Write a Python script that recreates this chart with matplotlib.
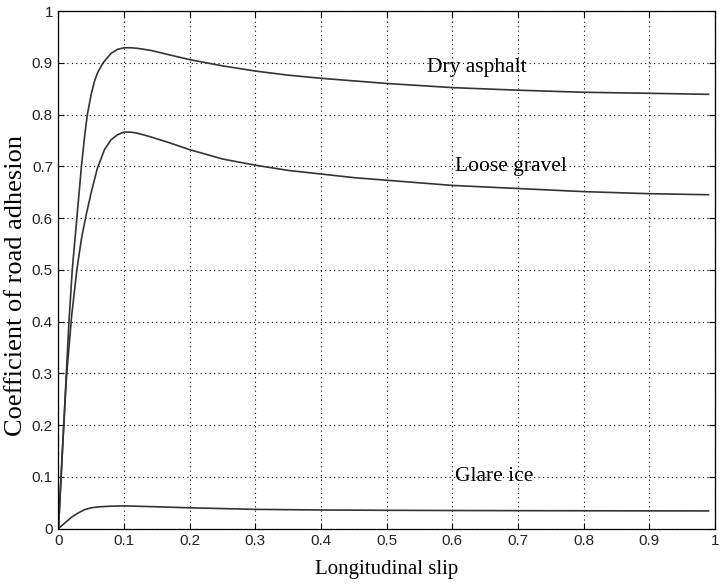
import matplotlib
matplotlib.use("Agg")
import matplotlib.pyplot as plt

# ==========================================
# Data
# ==========================================

dry_slip = [0, 0.006, 0.012, 0.016, 0.021, 0.028, 0.035, 0.04, 0.044, 0.05,
            0.055, 0.06, 0.068, 0.08, 0.09, 0.1, 0.11, 0.12, 0.14, 0.17,
            0.2, 0.25, 0.3, 0.35, 0.4, 0.45, 0.5, 0.6, 0.7, 0.8, 0.9, 0.99]
dry_mu = [0, 0.15, 0.3, 0.4, 0.5, 0.6, 0.7, 0.76, 0.8, 0.84,
          0.865, 0.882, 0.9, 0.918, 0.926, 0.929, 0.929, 0.928, 0.924, 0.915,
          0.906, 0.894, 0.884, 0.876, 0.870, 0.865, 0.860, 0.852, 0.847, 0.843, 0.841, 0.839]

gravel_slip = [0, 0.006, 0.012, 0.02, 0.028, 0.035, 0.042, 0.05, 0.059,
               0.07, 0.08, 0.09, 0.1, 0.11, 0.12, 0.14, 0.17, 0.2, 0.25,
               0.3, 0.35, 0.4, 0.45, 0.5, 0.6, 0.7, 0.8, 0.9, 0.99]
gravel_mu = [0, 0.15, 0.29, 0.41, 0.5, 0.56, 0.605, 0.65, 0.695,
             0.732, 0.751, 0.761, 0.766, 0.766, 0.764, 0.757, 0.745, 0.732, 0.714,
             0.702, 0.692, 0.685, 0.678, 0.673, 0.663, 0.657, 0.651, 0.647, 0.645]

ice_slip = [0, 0.01, 0.02, 0.03, 0.04, 0.05, 0.061, 0.08, 0.1, 0.15,
            0.2, 0.3, 0.4, 0.5, 0.6, 0.7, 0.8, 0.9, 0.99]
ice_mu = [0, 0.011, 0.022, 0.030, 0.0366, 0.040, 0.0418, 0.0432, 0.0437, 0.042,
          0.040, 0.037, 0.0358, 0.0352, 0.0348, 0.0345, 0.0343, 0.0341, 0.034]

ticks = [0, 0.1, 0.2, 0.3, 0.4, 0.5, 0.6, 0.7, 0.8, 0.9, 1]
tick_labels = ["0", "0.1", "0.2", "0.3", "0.4", "0.5", "0.6", "0.7", "0.8", "0.9", "1"]

# ==========================================
# Plot
# ==========================================

fig = plt.figure(figsize=(7.21, 5.86), dpi=100)
ax = fig.add_axes([0.0811, 0.0981, 0.9106, 0.8831])

line_kw = dict(color="#333333", linewidth=1.2)
ax.plot(dry_slip, dry_mu, **line_kw)
ax.plot(gravel_slip, gravel_mu, **line_kw)
ax.plot(ice_slip, ice_mu, **line_kw)

ax.set_xlim(0, 1)
ax.set_ylim(0, 1)
ax.set_xticks(ticks)
ax.set_yticks(ticks)
ax.set_xticklabels(tick_labels, family="Liberation Sans", fontsize=11, color="#222222")
ax.set_yticklabels(tick_labels, family="Liberation Sans", fontsize=11, color="#222222")

ax.tick_params(direction="in", length=4, width=0.8,
               top=True, right=True, pad=4)

ax.grid(True, color="black", linestyle=(0, (1, 3)), linewidth=0.8)

for s in ax.spines.values():
    s.set_linewidth(0.9)

ax.set_xlabel("Longitudinal slip", family="Liberation Serif",
              fontsize=15, va="center")
ax.xaxis.set_label_coords(0.5, -0.08)
ax.set_ylabel("Coefficient of road adhesion", family="Liberation Serif",
              fontsize=19, va="center")
ax.yaxis.set_label_coords(-0.064, 0.47)

text_kw = dict(family="Liberation Serif", fontsize=15.5, va="center", ha="left")
ax.text(0.561, 0.891, "Dry asphalt", **text_kw)
ax.text(0.604, 0.699, "Loose gravel", **text_kw)
ax.text(0.604, 0.100, "Glare ice", **text_kw)

fig.savefig("out.png", dpi=100)
